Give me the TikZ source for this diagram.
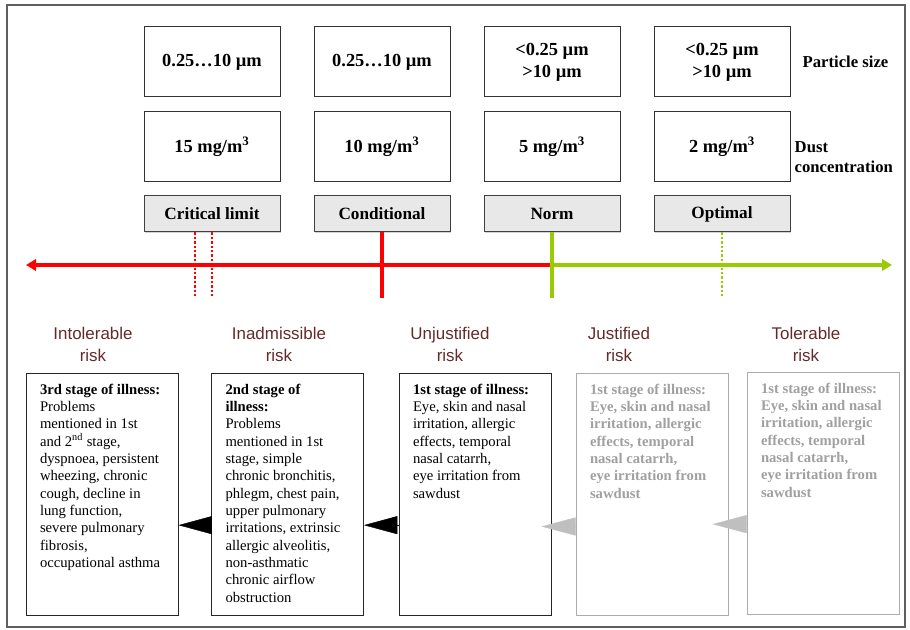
\documentclass[tikz,border=0pt]{standalone}
\usepackage{fontspec}
\setmainfont{Liberation Serif}
\newfontfamily\riskfont{Liberation Sans}
\usetikzlibrary{arrows.meta,shadows}

\definecolor{axisred}{RGB}{255,0,0}
\definecolor{axisgreen}{RGB}{153,204,0}
\definecolor{riskbrown}{RGB}{100,42,42}
\definecolor{paletext}{RGB}{160,160,160}
\definecolor{paleline}{RGB}{172,172,172}
\definecolor{framegray}{RGB}{95,95,95}

\newcommand{\stagetext}[1]{\parbox[t][166pt][t]{93pt}{\raggedright #1}}

\begin{document}
\begin{tikzpicture}[x=0.75pt,y=-0.75pt,
    valbox/.style={draw=black!80, line width=0.75pt, minimum width=102pt, minimum height=52.5pt,
        align=center, font=\fontsize{13.8}{16.5}\selectfont\bfseries},
    limbox/.style={draw=black!75, line width=0.75pt, fill=black!9, minimum width=102pt, minimum height=27pt,
        font=\fontsize{12.9}{15}\selectfont\bfseries,
        drop shadow={shadow xshift=0.6pt, shadow yshift=-0.6pt, opacity=0.35}},
    sidelabel/.style={anchor=west, align=left, font=\fontsize{12.5}{15}\selectfont\bfseries},
    risklabel/.style={align=center, text=riskbrown, font=\riskfont\fontsize{12.7}{16.5}\selectfont},
    stagebox/.style={draw=black!85, line width=0.75pt, inner xsep=10.5pt, inner ysep=8pt,
        font=\fontsize{11}{13}\selectfont},
    palebox/.style={stagebox, draw=paleline, text=paletext, font=\fontsize{11}{13}\selectfont\bfseries},
    axisline/.style={line width=2.4pt, -{Triangle[length=7.5pt,width=8.5pt]}},
    solidmark/.style={line width=2.4pt},
    dotmark/.style={line width=2.1pt, dash pattern=on 1.8pt off 1.5pt},
    stagearrow/.style={black, line width=0.3pt, -{Triangle[length=25pt,width=13.5pt]}},
    palearrow/.style={black!25, line width=0.3pt, -{Triangle[length=25.5pt,width=13.5pt]}}
]
    \useasboundingbox (0,0) rectangle (910,630);
    % outer frame
    \draw[framegray, line width=1pt] (7,5) rectangle (905,627);

    % particle size
    \node[valbox] (ps1) at (212,62) {0.25…10 µm}; \node[valbox] (ps2) at (382,62) {0.25…10 µm};
    \node[valbox] (ps3) at (552,62) {<0.25 µm\\>10 µm}; \node[valbox] (ps4) at (722,62) {<0.25 µm\\>10 µm};
    \node[sidelabel] (pslabel) at (798,62) {Particle size};

    % dust concentration
    \node[valbox] (dc1) at (212,146.5) {15 mg/m\textsuperscript{3}}; \node[valbox] (dc2) at (382,146.5) {10 mg/m\textsuperscript{3}};
    \node[valbox] (dc3) at (552,146.5) {5 mg/m\textsuperscript{3}}; \node[valbox] (dc4) at (722,146.5) {2 mg/m\textsuperscript{3}};
    \node[sidelabel] (dclabel) at (790,157) {Dust\\concentration};

    % limits
    \node[limbox] (lim1) at (212,214) {Critical limit}; \node[limbox] (lim2) at (382,214) {Conditional};
    \node[limbox] (lim3) at (552,214) {Norm}; \node[limbox] (lim4) at (722,214) {Optimal};

    % risk axis
    \coordinate (axL) at (26,265); \coordinate (axR) at (892,265); \coordinate (axN) at (lim3.south |- axL);
    \coordinate (vbot) at (0,298);
    \draw[axisline, axisred] (axN) -- (axL);
    \draw[axisline, axisgreen] (axN) -- (axR);

    % marks on the axis
    \draw[dotmark, axisred] ([xshift=-12.75pt]lim1.south) -- ([xshift=-12.75pt]lim1.south |- vbot);
    \draw[dotmark, axisred] (lim1.south) -- (lim1.south |- vbot);
    \draw[solidmark, axisred] (lim2.south) -- (lim2.south |- vbot);
    \draw[solidmark, axisgreen] (lim3.south) -- (lim3.south |- vbot);
    \draw[dotmark, axisgreen] (lim4.south) -- (lim4.south |- vbot);

    % risk levels
    \node[risklabel] (risk1) at (93,344) {Intolerable\\risk};
    \node[risklabel] (risk2) at (279,344) {Inadmissible\\risk};
    \node[risklabel] (risk3) at (450,344) {Unjustified\\risk};
    \node[risklabel] (risk4) at (619,344) {Justified\\risk};
    \node[risklabel] (risk5) at (806,344) {Tolerable\\risk};

    % stages of illness
    \node[stagebox] (st1) at (102,494.5) {\stagetext{\textbf{3rd stage of illness:}\\ Problems\\ mentioned in 1st\\
        and 2\textsuperscript{nd} stage,\\ dyspnoea, persistent\\ wheezing, chronic\\ cough, decline in\\
        lung function,\\ severe pulmonary\\ fibrosis,\\ occupational asthma}};
    \node[stagebox] (st2) at (287.5,494.5) {\stagetext{\textbf{2nd stage of}\\ \textbf{illness:}\\ Problems\\
        mentioned in 1st\\ stage, simple\\ chronic bronchitis,\\ phlegm, chest pain,\\ upper pulmonary\\
        irritations, extrinsic\\ allergic alveolitis,\\ non-asthmatic\\ chronic airflow\\ obstruction}};
    \node[stagebox] (st3) at (475,494.5) {\stagetext{\textbf{1st stage of illness:}\\ Eye, skin and nasal\\
        irritation, allergic\\ effects, temporal\\ nasal catarrh,\\ eye irritation from\\ sawdust}};
    \node[palebox] (st4) at (652,494.5) {\stagetext{1st stage of illness:\\ Eye, skin and nasal\\
        irritation, allergic\\ effects, temporal\\ nasal catarrh,\\ eye irritation from\\ sawdust}};
    \node[palebox] (st5) at (823,493.5) {\stagetext{1st stage of illness:\\ Eye, skin and nasal\\
        irritation, allergic\\ effects, temporal\\ nasal catarrh,\\ eye irritation from\\ sawdust}};

    % progression between stages
    \draw[stagearrow] ([yshift=-23pt]st2.west) -- ([yshift=-23pt]st1.east);
    \draw[stagearrow] ([yshift=-23pt]st3.west) -- ([yshift=-23pt]st2.east);
    \coordinate (tip4) at ([xshift=-25.5pt,yshift=-24pt]st4.west);
    \coordinate (tip5) at ([xshift=-25.5pt,yshift=-23pt]st5.west);
    \draw[palearrow] ([yshift=-24pt]st4.west) -- (tip4);
    \draw[palearrow] ([yshift=-23pt]st5.west) -- (tip5);
\end{tikzpicture}
\end{document}
